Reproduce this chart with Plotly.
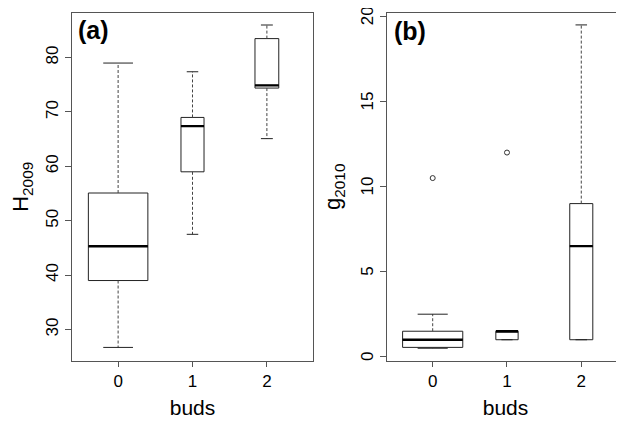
import plotly.graph_objects as go

# ---------------- data ----------------
buds = [0, 1, 2]
tick_labels_x = ["0", "1", "2"]

# panel (a): H2009
h_low = [26.7, 47.5, 65.1]
h_q1 = [39.0, 59.0, 74.4]
h_med = [45.3, 67.4, 74.9]
h_q3 = [55.1, 69.0, 83.5]
h_high = [79.0, 77.4, 86.0]

# panel (b): g2010
g_low = [0.5, 1.0, 1.0]
g_q1 = [0.55, 1.0, 1.0]
g_med = [1.0, 1.5, 6.5]
g_q3 = [1.5, 1.5, 9.0]
g_high = [2.5, 1.5, 19.5]
g_out_x = [0, 1]
g_out_y = [10.5, 12.0]

h_ticks = [30, 40, 50, 60, 70, 80]
g_ticks = [0, 5, 10, 15, 20]

# ---------------- style ----------------
FONT = "Liberation Sans, Arial, sans-serif"
BOXC = "#222222"
FRAME = "#555555"
WIDTH_A = [0.8, 0.31, 0.32]
WIDTH_B = [0.81, 0.30, 0.31]

# the page body has an 8px default margin; size figure to fill the rest
OFF = 8
W, H = 624 - OFF, 423 - OFF


def px_x(v):
    return (v - OFF) / W


def px_y(v):
    return 1 - (v - OFF) / H


fig = go.Figure()


def add_panel(xa, ya, low, q1, med, q3, high, widths):
    for i, p in enumerate(buds):
        w = widths[i]
        fig.add_trace(go.Scatter(
            x=[p, p, None, p, p], y=[q3[i], high[i], None, q1[i], low[i]],
            mode="lines", line=dict(color="#444444", width=1, dash="3px,2px"),
            xaxis=xa, yaxis=ya, showlegend=False, hoverinfo="skip"))
        fig.add_trace(go.Scatter(
            x=[p - w / 4, p + w / 4, None, p - w / 4, p + w / 4],
            y=[high[i], high[i], None, low[i], low[i]],
            mode="lines", line=dict(color=BOXC, width=1),
            xaxis=xa, yaxis=ya, showlegend=False, hoverinfo="skip"))
        fig.add_trace(go.Box(
            x=[p], q1=[q1[i]], median=[med[i]], q3=[q3[i]],
            lowerfence=[q1[i]], upperfence=[q3[i]],
            width=w, whiskerwidth=0, boxpoints=False,
            fillcolor="white", line=dict(color=BOXC, width=1),
            xaxis=xa, yaxis=ya, showlegend=False, hoverinfo="skip"))
        fig.add_trace(go.Scatter(
            x=[p - w / 2, p + w / 2], y=[med[i], med[i]],
            mode="lines", line=dict(color="black", width=2.4),
            xaxis=xa, yaxis=ya, showlegend=False, hoverinfo="skip"))


add_panel("x", "y", h_low, h_q1, h_med, h_q3, h_high, WIDTH_A)
add_panel("x2", "y2", g_low, g_q1, g_med, g_q3, g_high, WIDTH_B)

fig.add_trace(go.Scatter(
    x=g_out_x, y=g_out_y, mode="markers",
    marker=dict(symbol="circle-open", size=5, color="#333333", line=dict(width=1)),
    xaxis="x2", yaxis="y2", showlegend=False, hoverinfo="skip"))

ydom = [px_y(361), px_y(12.5)]

common_x = dict(
    tickmode="array", tickvals=buds, ticktext=tick_labels_x,
    ticks="outside", ticklen=5, tickcolor=FRAME, showgrid=False, zeroline=False,
    showline=True, linecolor=FRAME, linewidth=1, automargin=False,
    tickfont=dict(family=FONT, size=17, color="black"),
    title=dict(text="buds", font=dict(family=FONT, size=21, color="black"), standoff=9),
)
common_y = dict(
    ticks="outside", ticklen=6, tickcolor=FRAME, showgrid=False, zeroline=False,
    showline=True, linecolor=FRAME, linewidth=1, tickangle=-90,
    ticklabeloverflow="allow", automargin=False,
    tickfont=dict(family=FONT, size=17, color="black"),
)

fig.update_layout(
    width=W, height=H,
    margin=dict(l=0, r=0, t=0, b=0, autoexpand=False),
    paper_bgcolor="white", plot_bgcolor="white",
    showlegend=False,
    xaxis=dict(domain=[px_x(72), px_x(313)], range=[-0.62, 2.62], mirror=True,
               anchor="y", **common_x),
    yaxis=dict(domain=ydom, range=[24.2, 88.3], tickvals=h_ticks, mirror=True,
               anchor="x",
               title=dict(text="H<sub>2009</sub>", font=dict(family=FONT, size=22, color="black"),
                          standoff=11),
               **common_y),
    xaxis2=dict(domain=[px_x(387), 1.0], range=[-0.615, 2.575], mirror=True,
                anchor="y2", **common_x),
    yaxis2=dict(domain=ydom, range=[-0.25, 20.23], tickvals=g_ticks, mirror=False,
                anchor="x2", ticklabelshift=2,
                title=dict(text="g<sub>2010</sub>", font=dict(family=FONT, size=22, color="black"),
                           standoff=11),
                **common_y),
    annotations=[
        dict(text="<b>(a)</b>", x=px_x(76), y=px_y(30), xref="paper", yref="paper",
             xanchor="left", yanchor="middle", showarrow=False,
             font=dict(family=FONT, size=25, color="black")),
        dict(text="<b>(b)</b>", x=px_x(392), y=px_y(31), xref="paper", yref="paper",
             xanchor="left", yanchor="middle", showarrow=False,
             font=dict(family=FONT, size=25, color="black")),
    ],
)

fig.write_html("out.html")
